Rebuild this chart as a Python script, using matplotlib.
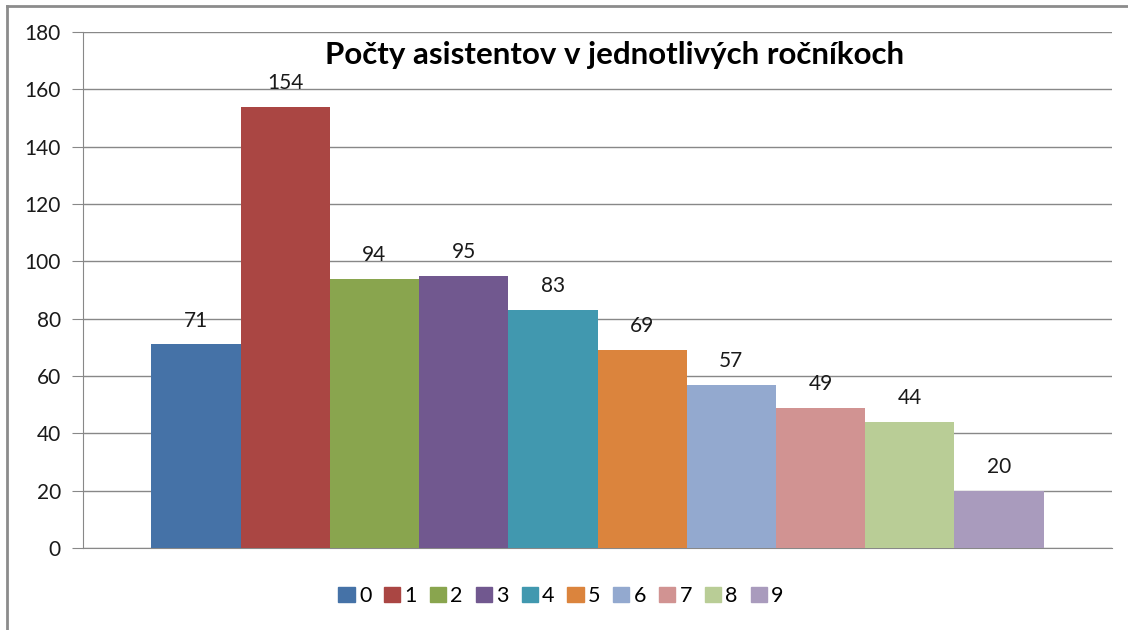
import numpy as np
import matplotlib
matplotlib.use("Agg")
import matplotlib.pyplot as plt
from matplotlib.patches import Rectangle

# data
rocniky = ['0', '1', '2', '3', '4', '5', '6', '7', '8', '9']
pocty = [71, 154, 94, 95, 83, 69, 57, 49, 44, 20]
farby = ['#4572A7', '#AA4643', '#89A54E', '#71588F', '#4198AF',
         '#DB843D', '#93A9CF', '#D19392', '#B9CD96', '#A99BBD']
y_ticks = [0, 20, 40, 60, 80, 100, 120, 140, 160, 180]
titulok = 'Počty asistentov v jednotlivých ročníkoch'

plt.rcParams['font.family'] = ['Lato', 'DejaVu Sans']

fig = plt.figure(figsize=(11.28, 6.3), dpi=100)
ax = fig.add_axes([83 / 1128, 1 - 548 / 630, (1112 - 83) / 1128, (548 - 32) / 630])

# outer frame of the chart object (top and left edges visible)
fig.add_artist(plt.Line2D([7 / 1128, 1.0], [1 - 6 / 630, 1 - 6 / 630],
                          transform=fig.transFigure, color='#8c8c8c', lw=2))
fig.add_artist(plt.Line2D([7 / 1128, 7 / 1128], [0, 1 - 6 / 630],
                          transform=fig.transFigure, color='#8c8c8c', lw=2))

x = np.arange(len(pocty))
bars = ax.bar(x, pocty, width=1.0, color=farby, label=rocniky, zorder=3)

for xi, v in zip(x, pocty):
    ax.annotate(str(v), (xi, v), xytext=(0, 10), textcoords='offset points',
                ha='center', va='bottom', fontsize=15, color='#1a1a1a')

ax.set_xlim(-0.5 - 0.765, len(pocty) - 0.5 + 0.765)
ax.set_ylim(0, 180)
ax.set_yticks(y_ticks)
ax.set_xticks([])
ax.grid(axis='y', color='#888888', lw=1, zorder=0)
for s in ['top', 'right']:
    ax.spines[s].set_visible(False)
ax.spines['left'].set_color('#888888')
ax.spines['bottom'].set_color('#888888')
ax.tick_params(axis='y', length=8, color='#888888', labelsize=15,
               labelcolor='#1a1a1a', pad=8)

fig.text(615 / 1128, 1 - 55 / 630, titulok, ha='center', va='center',
         fontsize=22.5, fontweight='bold', color='black')

handles = [Rectangle((0, 0), 1, 1, color=c) for c in farby]
fig.legend(handles, rocniky, loc='center', bbox_to_anchor=(561 / 1128, 1 - 596 / 630),
           ncol=10, frameon=False, fontsize=15.5, handlelength=0.75, handleheight=0.75,
           handletextpad=0.2, columnspacing=0.6)

fig.savefig('out.png', dpi=100, facecolor='white')
